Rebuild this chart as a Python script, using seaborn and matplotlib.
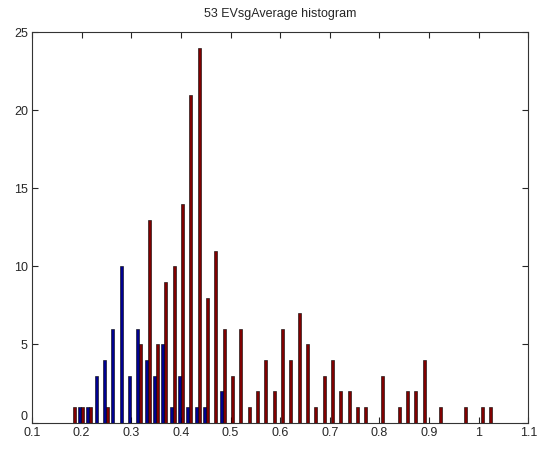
import matplotlib
matplotlib.use("Agg")
import matplotlib.pyplot as plt
import numpy as np
import pandas as pd
import seaborn as sns

# bin centres of the histogram
bin_centers = [0.1819, 0.1987, 0.2155, 0.2323, 0.2491, 0.2659, 0.2827, 0.2995, 0.3163, 0.3331,
               0.3498, 0.3666, 0.3834, 0.4002, 0.4170, 0.4338, 0.4506, 0.4674, 0.4842, 0.5010,
               0.5178, 0.5346, 0.5514, 0.5682, 0.5850, 0.6018, 0.6186, 0.6354, 0.6522, 0.6689,
               0.6857, 0.7025, 0.7193, 0.7361, 0.7529, 0.7697, 0.7865, 0.8033, 0.8201, 0.8369,
               0.8537, 0.8705, 0.8873, 0.9041, 0.9209, 0.9376, 0.9544, 0.9712, 0.9880, 1.0048,
               1.0216]

blue_counts = [0, 1, 1, 3, 4, 6, 10, 3, 6, 4,
               3, 5, 1, 3, 1, 1, 1, 0, 2, 0,
               0, 0, 0, 0, 0, 0, 0, 0, 0, 0,
               0, 0, 0, 0, 0, 0, 0, 0, 0, 0,
               0, 0, 0, 0, 0, 0, 0, 0, 0, 0,
               0]

red_counts = [1, 1, 1, 0, 1, 0, 0, 0, 5, 13,
              5, 9, 10, 14, 21, 24, 8, 11, 6, 3,
              6, 1, 2, 4, 2, 6, 4, 7, 5, 1,
              3, 4, 2, 2, 1, 1, 0, 3, 0, 1,
              2, 2, 4, 0, 1, 0, 0, 1, 0, 1,
              1]

series_names = ["set 1", "set 2"]
x_ticks = [0.1, 0.2, 0.3, 0.4, 0.5, 0.6, 0.7, 0.8, 0.9, 1.0, 1.1]
x_tick_labels = ["0.1", "0.2", "0.3", "0.4", "0.5", "0.6", "0.7", "0.8", "0.9", "1", "1.1"]
y_ticks = [0, 5, 10, 15, 20, 25]

df = pd.concat([
    pd.DataFrame({"center": bin_centers, "count": blue_counts, "series": series_names[0]}),
    pd.DataFrame({"center": bin_centers, "count": red_counts, "series": series_names[1]}),
], ignore_index=True)

# one bin per centre
step = float(np.diff(bin_centers).mean())
bin_range = (bin_centers[0] - step / 2, bin_centers[-1] + step / 2)

sns.set_style("ticks")
plt.rcParams["font.family"] = ["Liberation Sans", "DejaVu Sans"]

fig = plt.figure(figsize=(5.37, 4.5), dpi=100)
ax = fig.add_axes([0.0596, 0.0611, 0.9242, 0.8671])

sns.histplot(data=df, x="center", weights="count", hue="series", hue_order=series_names,
             binwidth=step, binrange=bin_range, multiple="dodge", shrink=0.7,
             palette=["#000090", "#800000"], edgecolor="black", linewidth=0.4, alpha=1,
             legend=False, ax=ax)

ax.set_xlim(0.1, 1.1)
ax.set_ylim(0, 25)
ax.set_xticks(x_ticks)
ax.set_xticklabels(x_tick_labels)
ax.set_yticks(y_ticks)
ax.set_xlabel("")
ax.set_ylabel("")
ax.tick_params(direction="in", top=True, right=True, length=4, width=0.8, labelsize=9)
ax.tick_params(axis="x", pad=3)
ax.tick_params(axis="y", pad=3)
ax.get_yticklabels()[0].set_va("bottom")
for spine in ax.spines.values():
    spine.set_visible(True)
    spine.set_linewidth(0.8)
    spine.set_color("#333333")

ax.set_title("53 EVsgAverage histogram", fontsize=9, pad=11)

fig.savefig("out.png", dpi=100)
